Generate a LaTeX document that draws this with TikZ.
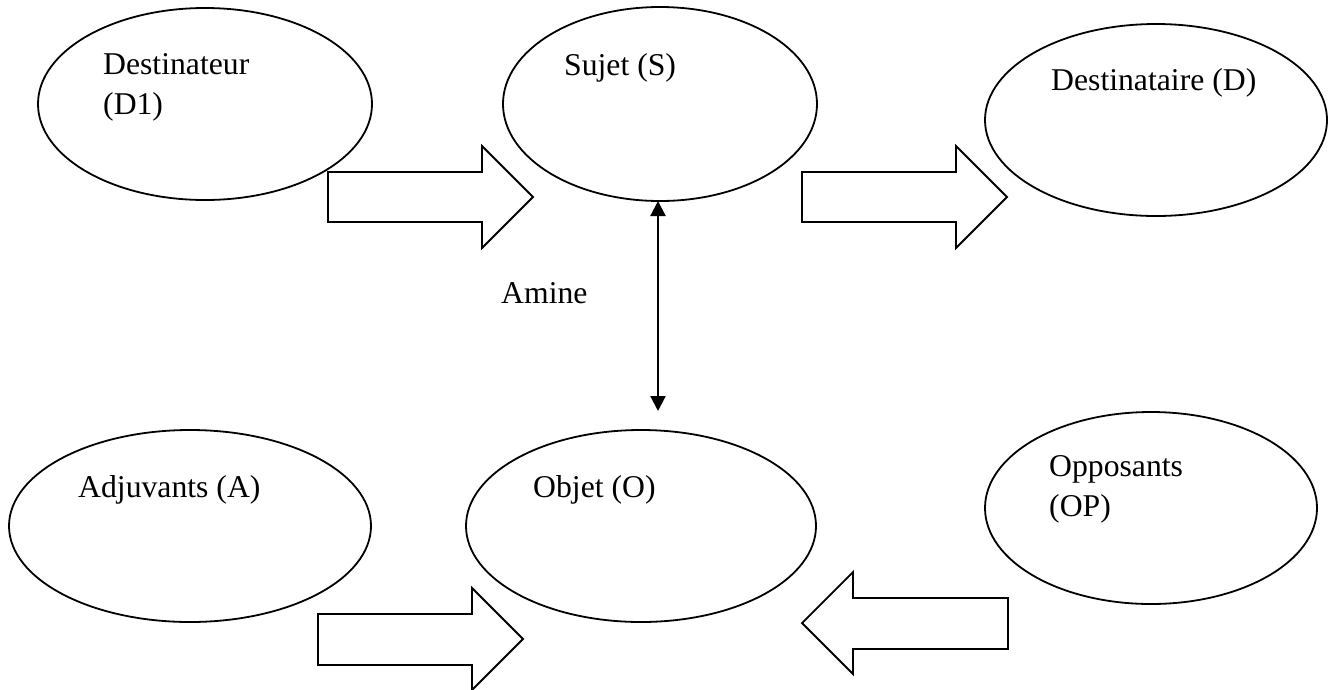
\documentclass[tikz,border=0pt]{standalone}
\usepackage{fontspec}
\setmainfont{Liberation Serif}
\usetikzlibrary{shapes.geometric,arrows.meta}
\begin{document}
\begin{tikzpicture}[x=1pt,y=-1pt,
  oval/.style={draw=black,line width=1.8pt,ellipse,inner sep=0pt},
  lbl/.style={anchor=base west,inner sep=0pt,font=\fontsize{31.7}{40}\selectfont},
  blockarrow/.style={draw=black,line width=1.8pt,line join=miter,fill=white},
  dbl/.style={line width=2.2pt,{Triangle[length=15pt,width=15pt]}-{Triangle[length=15pt,width=15pt]}}]
\useasboundingbox (0,0) rectangle (1330,689);
% ellipses
\node[oval,minimum width=334pt,minimum height=192pt] (dest) at (205,104) {};
\node[oval,minimum width=314pt,minimum height=194pt] (sujet) at (660,104) {};
\node[oval,minimum width=342pt,minimum height=192pt] (destin) at (1156,120) {};
\node[oval,minimum width=362pt,minimum height=192pt] (adj) at (190,526) {};
\node[oval,minimum width=350pt,minimum height=192pt] (objet) at (641,526) {};
\node[oval,minimum width=332pt,minimum height=192pt] (opp) at (1151,508) {};
% labels
\node[lbl] (tdest) at (103,74) {\begin{tabular}[t]{@{}l@{}}Destinateur\\(D1)\end{tabular}};
\node[lbl] (tsujet) at (564,75) {Sujet (S)};
\node[lbl] (tdestin) at (1051,90) {Destinataire (D)};
\node[lbl] (tadj) at (78,497) {Adjuvants (A)};
\node[lbl] (tobjet) at (533,497) {Objet (O)};
\node[lbl] (topp) at (1049,476) {\begin{tabular}[t]{@{}l@{}}Opposants\\(OP)\end{tabular}};
\node[lbl] (tamine) at (501,303) {Amine};
% block arrows
\draw[blockarrow] (328,172) -- (482,172) -- (482,146) -- (533,197) -- (482,248) -- (482,222) -- (328,222) -- cycle;
\draw[blockarrow] (802,172) -- (956,172) -- (956,146) -- (1007,197) -- (956,248) -- (956,222) -- (802,222) -- cycle;
\draw[blockarrow] (318,614) -- (472,614) -- (472,588) -- (523,639) -- (472,690) -- (472,665) -- (318,665) -- cycle;
\draw[blockarrow] (1008,598) -- (853,598) -- (853,572) -- (802,623) -- (853,674) -- (853,649) -- (1008,649) -- cycle;
% double arrow
\coordinate (ds) at (658,201);
\coordinate (dob) at (658,411);
\draw[dbl] (ds) -- (dob);
\end{tikzpicture}
\end{document}
